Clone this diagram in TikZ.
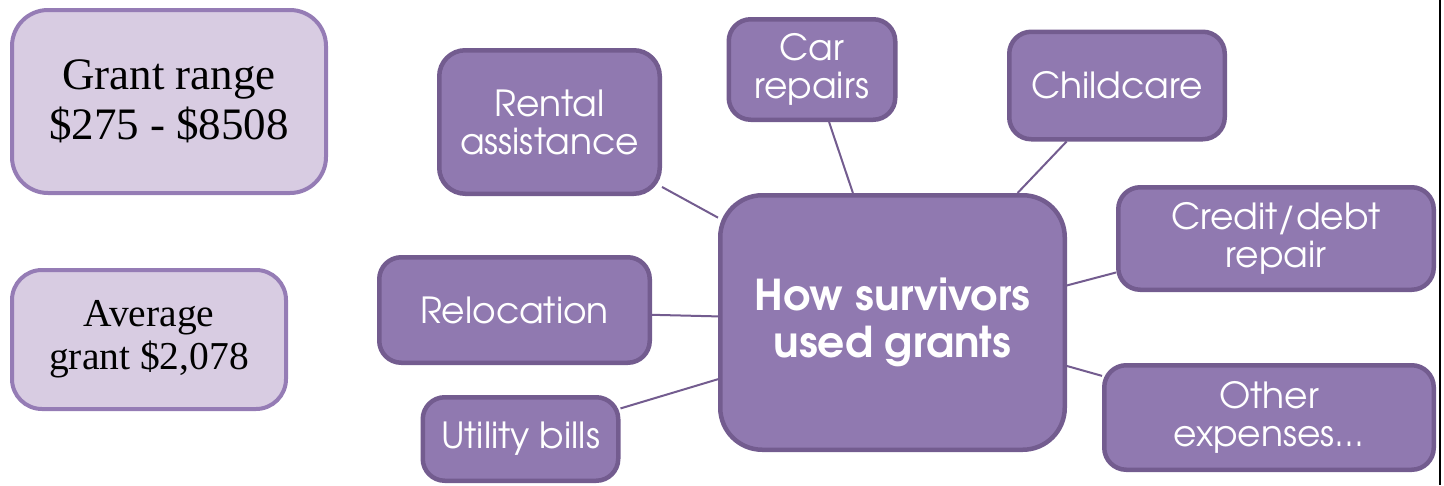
\documentclass[tikz,border=0pt]{standalone}
\usepackage{fontspec}
\setmainfont{Liberation Serif}
\newfontfamily\gothic[BoldFont=texgyreadventor-bold.otf]{texgyreadventor-regular.otf}
\usetikzlibrary{backgrounds}

\definecolor{plum}{HTML}{9079B0}
\definecolor{plumline}{HTML}{735C8F}
\definecolor{lilac}{HTML}{D8CCE2}
\definecolor{lilacline}{HTML}{957CB5}

\tikzset{
  topic/.style={draw=plumline, fill=plum, line width=4.5pt, rounded corners=22pt,
    text=white, font=\gothic\fontsize{36}{38}\selectfont, align=center, inner sep=0pt},
  fact/.style={draw=lilacline, fill=lilac, line width=4pt, text=black,
    align=center, inner sep=0pt},
  link/.style={draw=plumline, line width=2pt}
}

\begin{document}
\begin{tikzpicture}[x=1pt,y=-1pt]
\useasboundingbox (0,0) rectangle (1444,485);

% summary figures
\node[fact, rounded corners=36pt, minimum width=314pt, minimum height=183pt,
  font=\fontsize{45}{50}\selectfont] (range) at (169,101.5) {Grant range\\\$275 - \$8508};
\node[fact, rounded corners=30pt, minimum width=274pt, minimum height=139pt,
  font=\fontsize{39.5}{43}\selectfont] (avg) at (149,339.5) {Average\\grant \$2,078};

% uses of the grants
\node[topic, minimum width=220.5pt, minimum height=143.5pt, rounded corners=26pt] (rent) at (549.5,122) {Rental\\assistance};
\node[topic, minimum width=166.5pt, minimum height=100.5pt] (car) at (812,69.5) {Car\\repairs};
\node[topic, minimum width=215.5pt, minimum height=107.5pt] (child) at (1117,85.5) {Childcare};
\node[topic, minimum width=315.5pt, minimum height=102.5pt] (credit) at (1276,238.5) {Credit/debt\\repair};
\node[topic, minimum width=270.5pt, minimum height=105.5pt] (reloc) at (514.5,310) {Relocation};
\node[topic, minimum width=195.5pt, minimum height=83.5pt] (util) at (520.5,439) {Utility bills};
\node[topic, minimum width=329.5pt, minimum height=104.5pt] (other) at (1269,417.5) {Other\\expenses...};

% hub
\node[topic, minimum width=344.5pt, minimum height=254.5pt, rounded corners=42pt,
  font=\gothic\bfseries\fontsize{42.5}{47}\selectfont] (hub) at (892.5,322.5) {How survivors\\used grants};

\begin{scope}[on background layer]
  \draw[link] (hub.149.5) -- (rent.-30.6);
  \draw[link] (hub.107.8) -- (car.-72);
  \draw[link] (hub.46.6) -- (child.-132.6);
  \draw[link] (hub.12.4) -- (credit.192.6);
  \draw[link] (hub.-14.3) -- (other.166.3);
  \draw[link] (hub.178.2) -- (reloc.-2.1);
  \draw[link] (hub.-162.4) -- (util.17.3);
\end{scope}

% frame edge on the right
\draw[line width=2.5pt, black] (1440,0) -- (1440,485);
\end{tikzpicture}
\end{document}
